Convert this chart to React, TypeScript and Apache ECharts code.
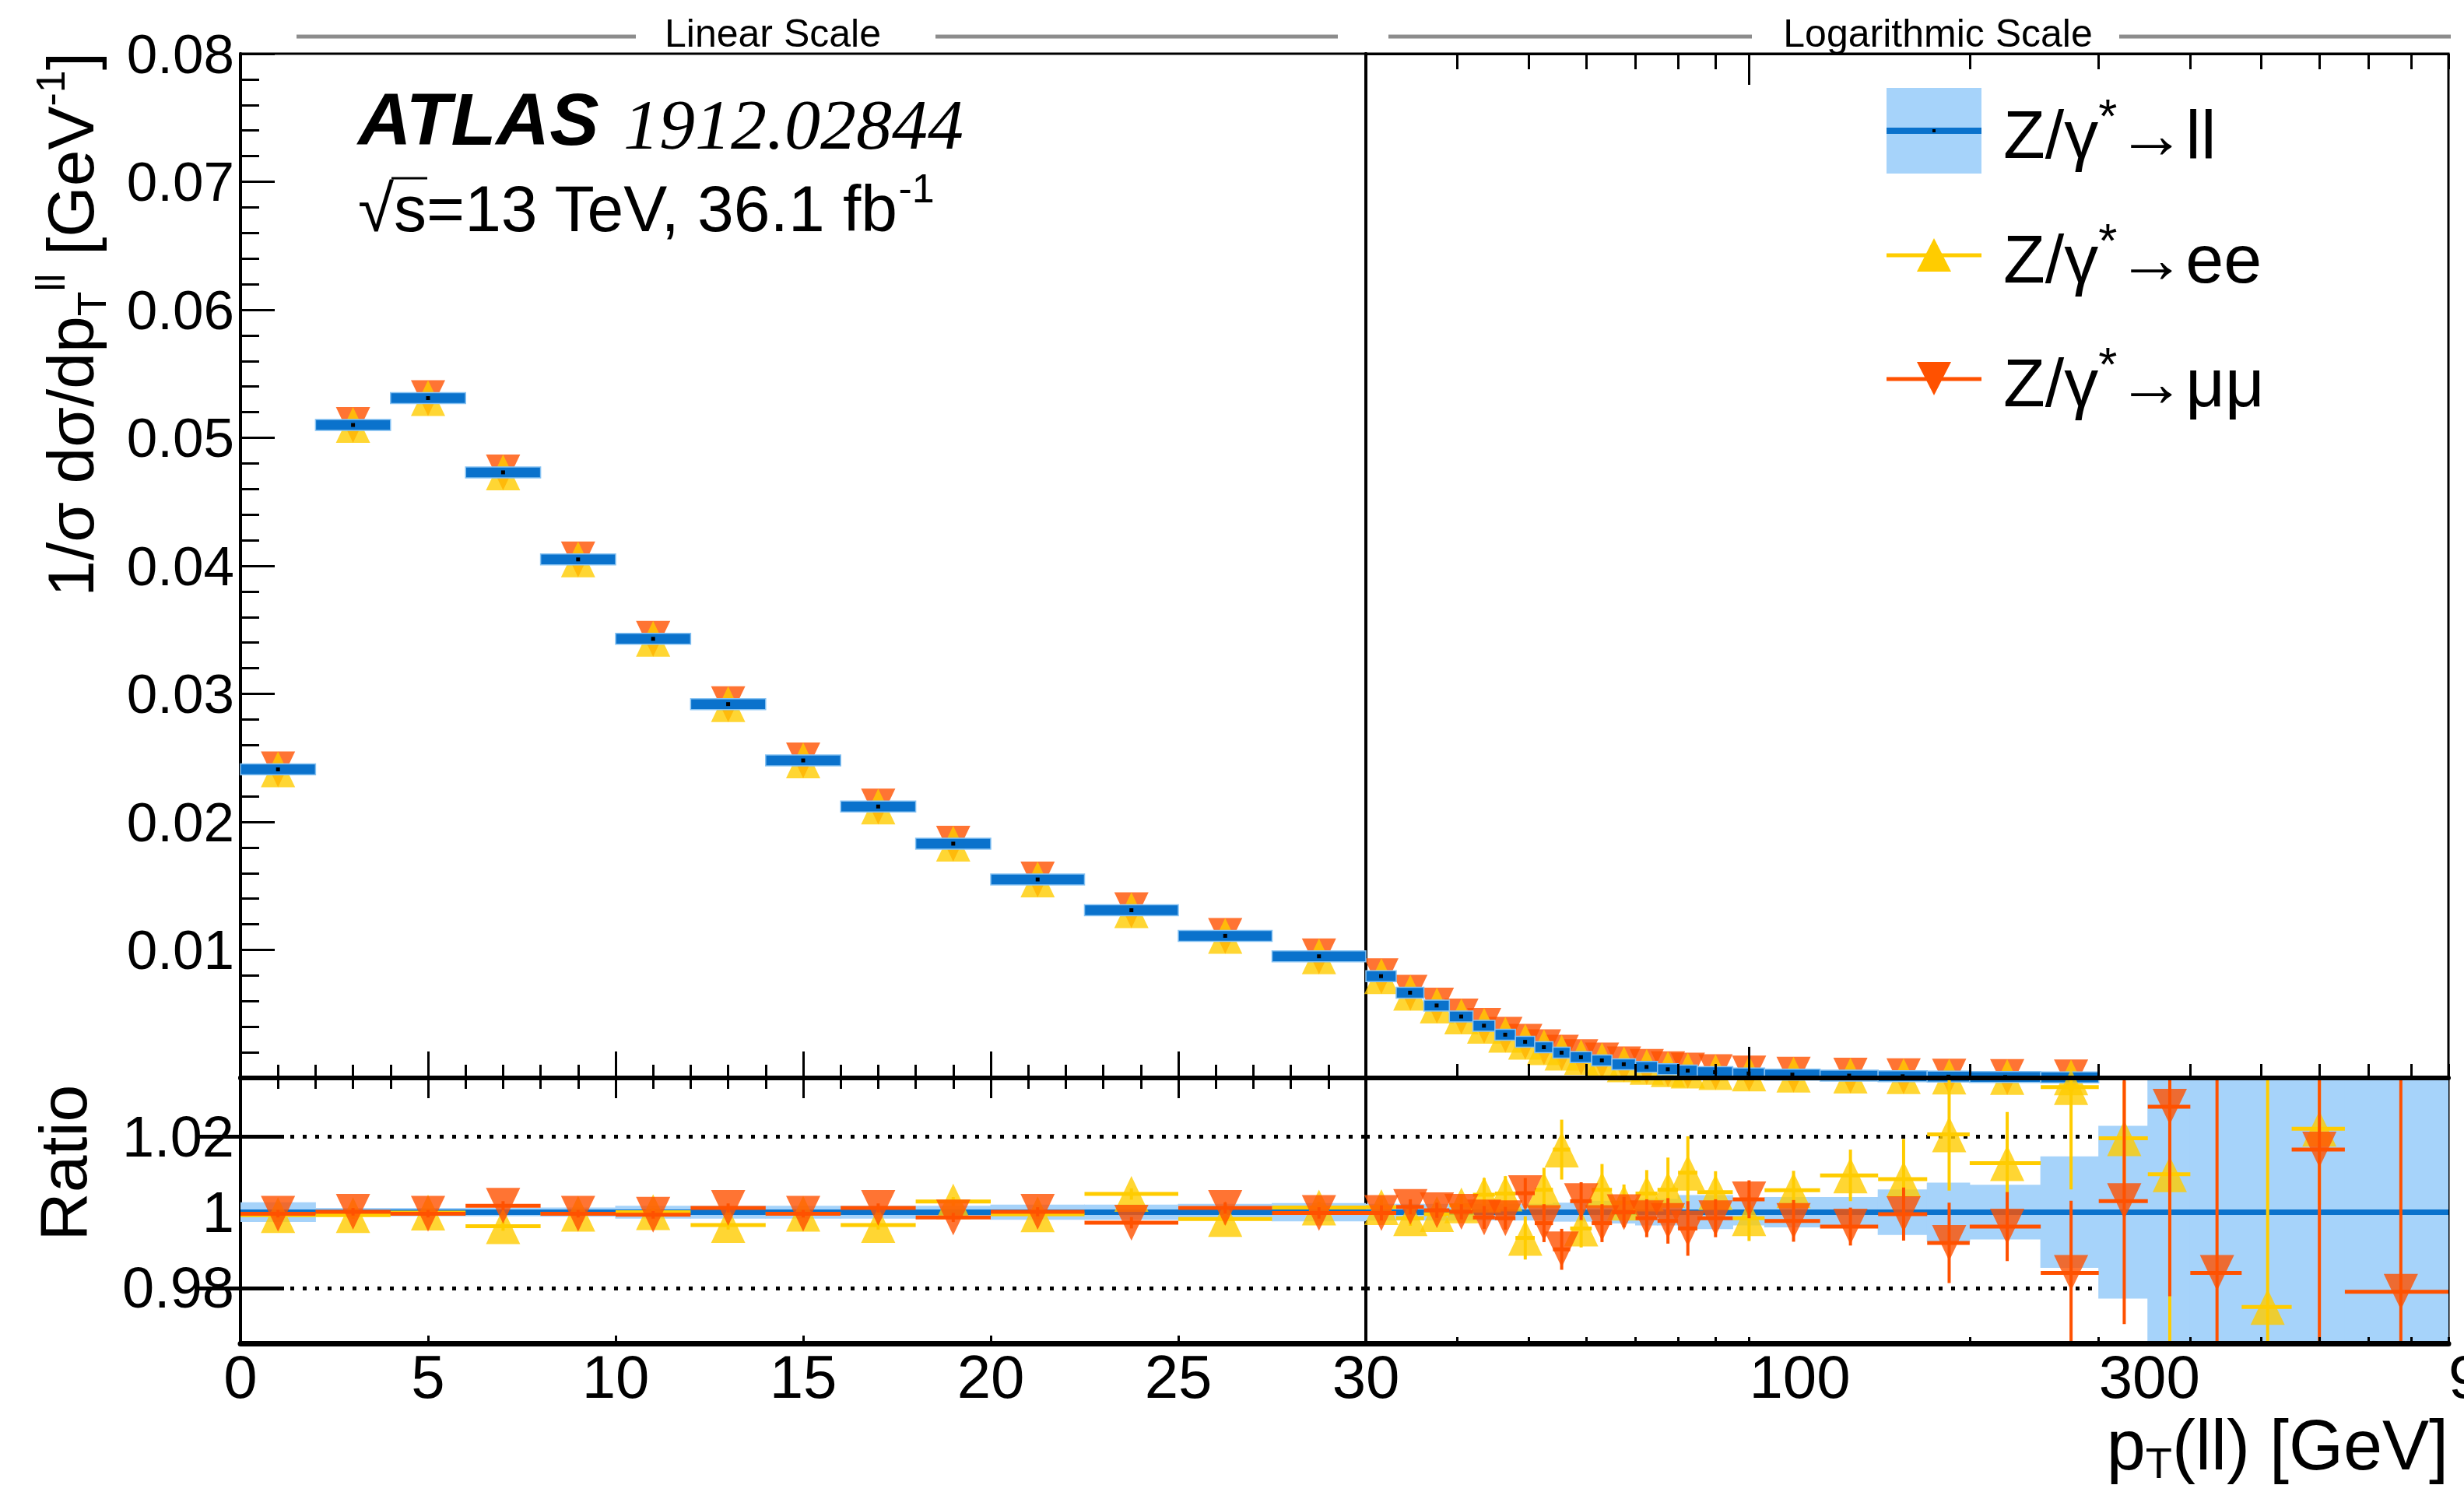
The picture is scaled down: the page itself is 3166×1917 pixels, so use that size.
import React, { useEffect, useRef } from "react";
import * as echarts from "echarts";

const FONT = "'Liberation Sans', Arial, Helvetica, sans-serif";
const SERIF = "'Liberation Serif', 'Times New Roman', serif";

const BLUE = "#0A72CC";
const LIGHT_BLUE = "#A6D3FA";
const YELLOW = "#FFCC00";
const ORANGE = "#FF5100";

// ---- bin edges (GeV) ----
const linEdges = [0, 2, 4, 6, 8, 10, 12, 14, 16, 18, 20, 22.5, 25, 27.5, 30];
const logEdges = [30, 33, 36, 39, 42, 45, 48, 51, 54, 57, 61, 65, 70, 75, 80, 85, 95, 105, 125, 150, 175, 200, 250, 300, 350, 400, 470, 550, 650, 900];

// ---- tick values / labels ----
const logMinorTicks = [40, 50, 60, 70, 80, 90, 200, 300, 400, 500, 600, 700, 800, 900];
const logMajorTicks = [100];
const logAllTicks = [40, 50, 60, 70, 80, 90, 100, 200, 300, 400, 500, 600, 700, 800, 900];
const logLabelValues = [100, 300, 900];
const ratioTicks = [0.98, 1, 1.02];
const ratioRefLines = [0.98, 1.02];

// ---- main panel: 1/sigma dsigma/dpT (Z/gamma* -> ll) ----
const llMainLin = [0.0241, 0.051, 0.0531, 0.0473, 0.0405, 0.0343, 0.0292, 0.0248, 0.0212, 0.0183, 0.0155, 0.0131, 0.0111, 0.0095];
const llMainLog = [0.00795, 0.00666, 0.00566, 0.0048, 0.00408, 0.00338, 0.00282, 0.0024, 0.00197, 0.00162, 0.00137, 0.00107, 0.00086, 0.00068, 0.00057, 0.00045, 0.00035, 0.00026, 0.00018, 0.00013, 0.0001, 0.00007, 0.00004];

// ---- ratio panel: ll uncertainty band (half width) ----
const bandLin = [0.0026, 0.0011, 0.0011, 0.0011, 0.0012, 0.0017, 0.0017, 0.0017, 0.0017, 0.0017, 0.002, 0.002, 0.0022, 0.0024];
const bandLog = [0.0022, 0.0022, 0.0022, 0.0022, 0.0022, 0.0022, 0.0022, 0.0022, 0.0025, 0.0025, 0.003, 0.003, 0.0035, 0.0035, 0.0045, 0.0045, 0.0035, 0.004, 0.004, 0.006, 0.0078, 0.0072, 0.0147, 0.0228, 0.06, 0.06, 0.06, 0.06, 0.06];

// ---- ratio panel: ee / mumu ratios and errors ----
const eeRatioLin = [0.9992, 0.9992, 0.9999, 0.9963, 0.9996, 1.0, 0.9966, 0.9996, 0.9966, 1.0028, 0.9994, 1.0048, 0.9982, 1.0012];
const eeErrLin = [0.0012, 0.001, 0.001, 0.0012, 0.001, 0.001, 0.0012, 0.001, 0.0012, 0.0012, 0.0012, 0.0015, 0.0015, 0.0015];
const mmRatioLin = [0.9996, 1.0001, 0.9996, 1.0017, 0.9996, 0.9993, 1.0011, 0.9996, 1.0011, 0.9986, 1.0001, 0.9972, 1.0011, 0.9998];
const mmErrLin = [0.001, 0.001, 0.001, 0.0012, 0.001, 0.001, 0.0012, 0.001, 0.0012, 0.0012, 0.0012, 0.0015, 0.0015, 0.0015];

const eeRatioLog = [1.0013, 0.9984, 0.9995, 1.0018, 1.0046, 1.0049, 0.9932, 1.0059, 1.0165, 0.9957, 1.0059, 1.0025, 1.0049, 1.0059, 1.0104, 1.0053, 0.9984, 1.0058, 1.0097, 1.0087, 1.0205, 1.0129, 1.033, 1.0195, 1.01, 1.06, 0.975, 1.022, 1.06];
const eeErrLog = [0.002, 0.002, 0.002, 0.003, 0.0044, 0.0046, 0.0057, 0.0058, 0.0079, 0.005, 0.0068, 0.0048, 0.0062, 0.0085, 0.0096, 0.0055, 0.006, 0.0051, 0.0068, 0.0106, 0.0148, 0.0135, 0.027, 0.015, 0.06, 0.01, 0.07, 0.02, 0.01];
const mmRatioLog = [0.9998, 1.0014, 1.0005, 1.0001, 0.9986, 0.9984, 1.005, 0.9971, 0.9902, 1.0029, 0.9971, 1.0, 0.9984, 0.9977, 0.9957, 0.9984, 1.0034, 0.9977, 0.9962, 0.9995, 0.9919, 0.9962, 0.984, 1.0029, 1.0278, 0.984, 0.93, 1.0165, 0.979];
const mmErrLog = [0.002, 0.002, 0.002, 0.002, 0.003, 0.003, 0.004, 0.005, 0.0054, 0.005, 0.005, 0.004, 0.005, 0.006, 0.0072, 0.005, 0.005, 0.0055, 0.005, 0.007, 0.0106, 0.0091, 0.019, 0.0324, 0.05, 0.06, 0.01, 0.06, 0.07];

// ---------------------------------------------------------------
const bins = (edges: number[]) => edges.slice(0, -1).map((lo, i) => [lo, edges[i + 1]]);
const linBins = bins(linEdges);
const logBins = bins(logEdges);

const barRender = (_p: any, api: any) => {
  const lo = api.value(0), hi = api.value(1), v = api.value(2);
  const a = api.coord([lo, v]);
  const b = api.coord([hi, v]);
  const cx = (a[0] + b[0]) / 2;
  return {
    type: "group",
    children: [
      { type: "rect", shape: { x: a[0], y: a[1] - 7, width: b[0] - a[0], height: 14 }, style: { fill: BLUE, stroke: "#86C2F2", lineWidth: 1.5 } },
      { type: "rect", shape: { x: cx - 2.5, y: a[1] - 2.5, width: 5, height: 5 }, style: { fill: "#000" } },
    ],
  };
};

const bandRender = (_p: any, api: any) => {
  const lo = api.value(0), hi = api.value(1), e = api.value(2);
  const a = api.coord([lo, 1 + e]);
  const b = api.coord([hi, 1 - e]);
  return { type: "rect", shape: { x: a[0] - 0.5, y: a[1], width: b[0] - a[0] + 1, height: b[1] - a[1] }, style: { fill: LIGHT_BLUE } };
};

const errRender = (color: string) => (_p: any, api: any) => {
  const lo = api.value(0), hi = api.value(1), c = api.value(2), v = api.value(3), e = api.value(4);
  const l = api.coord([lo, v]);
  const r = api.coord([hi, v]);
  const t = api.coord([c, v + e]);
  const b = api.coord([c, v - e]);
  return {
    type: "group",
    children: [
      { type: "line", shape: { x1: l[0], y1: l[1], x2: r[0], y2: r[1] }, style: { stroke: color, lineWidth: 5 } },
      { type: "line", shape: { x1: t[0], y1: t[1], x2: b[0], y2: b[1] }, style: { stroke: color, lineWidth: 4 } },
    ],
  };
};

const tickStyle = (w = 3) => ({ color: "#000", width: w });

function mainSeries(binList: number[][], values: number[], xi: number, yi: number) {
  const b = binList.slice(0, values.length);
  const pts = b.map(([lo, hi], i) => [(lo + hi) / 2, values[i]]);
  return [
    { type: "scatter", xAxisIndex: xi, yAxisIndex: yi, z: 2, silent: true, symbol: "triangle", symbolRotate: 180, symbolSize: [44, 46], itemStyle: { color: ORANGE }, data: pts },
    { type: "scatter", xAxisIndex: xi, yAxisIndex: yi, z: 3, silent: true, symbol: "triangle", symbolSize: [44, 46], itemStyle: { color: YELLOW }, data: pts },
    { type: "custom", xAxisIndex: xi, yAxisIndex: yi, z: 4, silent: true, clip: false, renderItem: barRender, data: b.map(([lo, hi], i) => [lo, hi, values[i]]) },
  ];
}

function ratioSeries(binList: number[][], band: number[], ee: number[], eeErr: number[], mm: number[], mmErr: number[], xi: number, yi: number) {
  const c = binList.map(([lo, hi]) => (lo + hi) / 2);
  return [
    {
      type: "line", xAxisIndex: xi, yAxisIndex: yi, data: [], silent: true,
      markLine: { z: 1, silent: true, animation: false, symbol: ["none", "none"], label: { show: false }, emphasis: { disabled: true },
        lineStyle: { color: "#000", width: 5, type: [5, 11] }, data: ratioRefLines.map((v) => ({ yAxis: v })) },
    },
    { type: "custom", xAxisIndex: xi, yAxisIndex: yi, z: 2, silent: true, clip: true, renderItem: bandRender, data: binList.map(([lo, hi], i) => [lo, hi, band[i]]) },
    {
      type: "line", xAxisIndex: xi, yAxisIndex: yi, data: [], silent: true,
      markLine: { z: 3, silent: true, animation: false, symbol: ["none", "none"], label: { show: false }, emphasis: { disabled: true },
        lineStyle: { color: BLUE, width: 7, type: "solid" }, data: [{ yAxis: 1 }] },
    },
    { type: "custom", xAxisIndex: xi, yAxisIndex: yi, z: 4, silent: true, clip: true, renderItem: errRender(YELLOW), data: binList.map(([lo, hi], i) => [lo, hi, c[i], ee[i], eeErr[i]]) },
    { type: "scatter", xAxisIndex: xi, yAxisIndex: yi, z: 5, silent: true, clip: true, symbol: "triangle", symbolSize: [44, 46], itemStyle: { color: YELLOW }, data: c.map((x, i) => [x, ee[i]]) },
    { type: "custom", xAxisIndex: xi, yAxisIndex: yi, z: 6, silent: true, clip: true, renderItem: errRender(ORANGE), data: binList.map(([lo, hi], i) => [lo, hi, c[i], mm[i], mmErr[i]]) },
    { type: "scatter", xAxisIndex: xi, yAxisIndex: yi, z: 7, silent: true, clip: true, symbol: "triangle", symbolRotate: 180, symbolSize: [44, 46], itemStyle: { color: ORANGE }, data: c.map((x, i) => [x, mm[i]]) },
  ];
}

function text(x: number, y: number, str: string, o: any = {}) {
  const align = o.align || "left";
  const valign = o.valign || "middle";
  return {
    type: "text", x, y, silent: true, z: 100, rotation: o.rotation || 0,
    style: {
      text: str, fill: "#000", fontFamily: o.fontFamily || FONT, fontSize: o.fontSize || 72,
      fontWeight: o.fontWeight || "normal", fontStyle: o.fontStyle || "normal",
      align, verticalAlign: valign, textAlign: align, textVerticalAlign: valign,
      rich: o.rich,
    },
  };
}

const rich = (size: number, supRatio = 0.62, lh = 1.25) => ({
  b: { fontSize: size, fontFamily: FONT, lineHeight: Math.round(size * lh), verticalAlign: "middle", fill: "#000" },
  s: { fontSize: Math.round(size * supRatio), fontFamily: FONT, lineHeight: Math.round(size * supRatio), verticalAlign: "top", fill: "#000" },
  u: { fontSize: Math.round(size * 0.62), fontFamily: FONT, lineHeight: Math.round(size * 0.62), verticalAlign: "bottom", fill: "#000" },
});

const hline = (x1: number, x2: number, y: number, color: string, w: number) => ({
  type: "line", silent: true, z: 100, shape: { x1, y1: y, x2, y2: y }, style: { stroke: color, lineWidth: w },
});

function buildOption(): any {
  const logAxisBase = { type: "log", logBase: 10, min: 30, max: 900, splitLine: { show: false }, minorTick: { show: false } };
  const xAxis = [
    { gridIndex: 0, type: "value", position: "bottom", min: 0, max: 30, interval: 5, z: 10,
      axisLine: { show: true, onZero: false, lineStyle: { color: "#000", width: 6 } },
      axisTick: { show: true, inside: true, length: 34, lineStyle: tickStyle() },
      minorTick: { show: true, splitNumber: 5, length: 17, lineStyle: tickStyle() },
      axisLabel: { show: false }, splitLine: { show: false } },
    { ...logAxisBase, gridIndex: 1, position: "bottom", z: 10,
      axisLine: { show: true, onZero: false, lineStyle: { color: "#000", width: 6 } },
      axisTick: { show: true, inside: true, length: 18, customValues: logMinorTicks, lineStyle: tickStyle() },
      axisLabel: { show: false } },
    { ...logAxisBase, gridIndex: 1, position: "bottom", z: 10,
      axisLine: { show: false },
      axisTick: { show: true, inside: true, length: 40, customValues: logMajorTicks, lineStyle: tickStyle() },
      axisLabel: { show: false } },
    { ...logAxisBase, gridIndex: 1, position: "top",
      axisLine: { show: true, onZero: false, lineStyle: { color: "#000", width: 3 } },
      axisTick: { show: true, inside: true, length: 20, customValues: logMinorTicks, lineStyle: tickStyle() },
      axisLabel: { show: false } },
    { ...logAxisBase, gridIndex: 1, position: "top",
      axisLine: { show: false },
      axisTick: { show: true, inside: true, length: 40, customValues: logMajorTicks, lineStyle: tickStyle() },
      axisLabel: { show: false } },
    { gridIndex: 2, type: "value", position: "bottom", min: 0, max: 30, interval: 5, z: 10,
      axisLine: { show: true, onZero: false, lineStyle: { color: "#000", width: 7 } },
      axisTick: { show: true, inside: true, length: 10, lineStyle: tickStyle() },
      minorTick: { show: false },
      axisLabel: { show: true, fontSize: 78, fontFamily: FONT, color: "#000", margin: 4 },
      splitLine: { show: false } },
    { gridIndex: 2, type: "value", position: "top", min: 0, max: 30, interval: 5,
      axisLine: { show: true, onZero: false, lineStyle: { color: "#000", width: 6 } },
      axisTick: { show: true, inside: true, length: 26, lineStyle: tickStyle() },
      minorTick: { show: true, splitNumber: 5, length: 14, lineStyle: tickStyle() },
      axisLabel: { show: false }, splitLine: { show: false } },
    { ...logAxisBase, gridIndex: 3, position: "bottom", z: 10,
      axisLine: { show: true, onZero: false, lineStyle: { color: "#000", width: 7 } },
      axisTick: { show: true, inside: true, length: 8, customValues: logAllTicks, lineStyle: tickStyle() },
      axisLabel: { show: true, customValues: logLabelValues, fontSize: 78, fontFamily: FONT, color: "#000", margin: 4,
        align: "left", padding: [0, 0, 0, 0], formatter: (v: number) => String(Math.round(v)) } },
  ];

  const ratioMin = 0.9654, ratioMax = 1.0354;
  const yAxis = [
    { gridIndex: 0, type: "value", position: "left", min: 0, max: 0.08, interval: 0.01,
      axisLine: { show: true, onZero: false, lineStyle: { color: "#000", width: 4 } },
      axisTick: { show: true, inside: true, length: 44, lineStyle: tickStyle() },
      minorTick: { show: true, splitNumber: 5, length: 24, lineStyle: tickStyle() },
      axisLabel: { show: true, fontSize: 71, fontFamily: FONT, color: "#000", margin: 8,
        formatter: (v: number) => (v === 0 ? "" : v.toFixed(2)) },
      splitLine: { show: false } },
    { gridIndex: 1, type: "value", position: "left", min: 0, max: 0.08,
      axisLine: { show: true, onZero: false, lineStyle: { color: "#000", width: 4 } },
      axisTick: { show: false }, axisLabel: { show: false }, splitLine: { show: false } },
    { gridIndex: 2, type: "value", position: "left", min: ratioMin, max: ratioMax,
      axisLine: { show: true, onZero: false, lineStyle: { color: "#000", width: 4 } },
      axisTick: { show: true, inside: true, length: 56, customValues: ratioTicks, lineStyle: tickStyle(5) },
      axisLabel: { show: true, customValues: ratioTicks, fontSize: 74, fontFamily: FONT, color: "#000", margin: 8,
        formatter: (v: number) => (Math.abs(v - 1) < 1e-9 ? "1" : v.toFixed(2)) },
      splitLine: { show: false } },
    { gridIndex: 3, type: "value", position: "left", min: ratioMin, max: ratioMax,
      axisLine: { show: true, onZero: false, lineStyle: { color: "#000", width: 4 } },
      axisTick: { show: false }, axisLabel: { show: false }, splitLine: { show: false } },
    { gridIndex: 2, type: "value", position: "right", min: ratioMin, max: ratioMax,
      axisLine: { show: false },
      axisTick: { show: true, inside: true, length: 56, customValues: ratioRefLines, lineStyle: tickStyle(5) },
      axisLabel: { show: false }, splitLine: { show: false } },
  ];

  const gridBase = { show: true, borderColor: "#000", borderWidth: 3, backgroundColor: "transparent", containLabel: false, outerBoundsMode: "none" };
  const grid = [
    { ...gridBase, left: 309, top: 69, width: 1446, height: 1316 },
    { ...gridBase, left: 1755, top: 69, width: 1391, height: 1316 },
    { ...gridBase, left: 309, top: 1385, width: 1446, height: 341 },
    { ...gridBase, left: 1755, top: 1385, width: 1391, height: 341 },
  ];

  const series = [
    ...mainSeries(linBins, llMainLin, 0, 0),
    ...mainSeries(logBins, llMainLog, 1, 1),
    ...ratioSeries(linBins, bandLin, eeRatioLin, eeErrLin, mmRatioLin, mmErrLin, 5, 2),
    ...ratioSeries(logBins, bandLog, eeRatioLog, eeErrLog, mmRatioLog, mmErrLog, 7, 3),
  ];

  const legendRich = rich(88, 0.7);
  const graphic = [
    // scale headers
    hline(381, 817, 47, "#8c8c8c", 5),
    hline(1202, 1719, 47, "#8c8c8c", 5),
    text(993, 43, "Linear Scale", { fontSize: 50, align: "center" }),
    hline(1784, 2251, 47, "#8c8c8c", 5),
    hline(2723, 3149, 47, "#8c8c8c", 5),
    text(2490, 43, "Logarithmic Scale", { fontSize: 50, align: "center" }),
    // axis titles
    text(91, 67, "{b|1/σ dσ/dp}{u|T}{s|ll}{b| [GeV}{s|-1}{b|]}", { rotation: Math.PI / 2, align: "right", rich: rich(84) }),
    text(81, 1494, "Ratio", { rotation: Math.PI / 2, align: "center", fontSize: 86 }),
    text(3146, 1857, "{b|p}{u|T}{b|(ll) [GeV]}", { align: "right", rich: rich(90, 0.62, 1.12) }),
    // ATLAS label
    text(460, 153, "ATLAS", { fontSize: 95, fontWeight: "bold", fontStyle: "italic" }),
    text(801, 160, "1912.02844", { fontSize: 92, fontStyle: "italic", fontFamily: SERIF }),
    text(460, 268, "{b|√s=13 TeV, 36.1 fb}{s|-1}", { rich: rich(84) }),
    hline(503, 549, 229, "#000", 3),
    // legend
    { type: "rect", silent: true, z: 100, shape: { x: 2424, y: 113, width: 122, height: 110 }, style: { fill: LIGHT_BLUE } },
    hline(2424, 2546, 168, BLUE, 8),
    { type: "rect", silent: true, z: 101, shape: { x: 2483, y: 166, width: 4, height: 4 }, style: { fill: "#000" } },
    text(2574, 172, "{b|Z/γ}{s|*}{b|→ll}", { rich: legendRich }),
    hline(2424, 2546, 328, YELLOW, 5),
    { type: "polygon", silent: true, z: 101, shape: { points: [[2485, 306], [2463, 349], [2507, 349]] }, style: { fill: YELLOW } },
    text(2574, 332, "{b|Z/γ}{s|*}{b|→ee}", { rich: legendRich }),
    hline(2424, 2546, 487, ORANGE, 5),
    { type: "polygon", silent: true, z: 101, shape: { points: [[2463, 465], [2507, 465], [2485, 508]] }, style: { fill: ORANGE } },
    text(2574, 491, "{b|Z/γ}{s|*}{b|→μμ}", { rich: legendRich }),
  ];

  return {
    animation: false,
    backgroundColor: "#fff",
    textStyle: { fontFamily: FONT },
    grid,
    xAxis,
    yAxis,
    series,
    graphic,
  };
}

export default function App() {
  const ref = useRef<HTMLDivElement>(null);
  useEffect(() => {
    if (!ref.current) return;
    const chart = echarts.init(ref.current, null, { renderer: "svg", width: 3166, height: 1917 });
    chart.setOption(buildOption());
    return () => chart.dispose();
  }, []);
  return (
    <div
      ref={ref}
      style={{ position: "fixed", left: 0, top: 0, width: 3166, height: 1917, background: "#fff" }}
    />
  );
}
